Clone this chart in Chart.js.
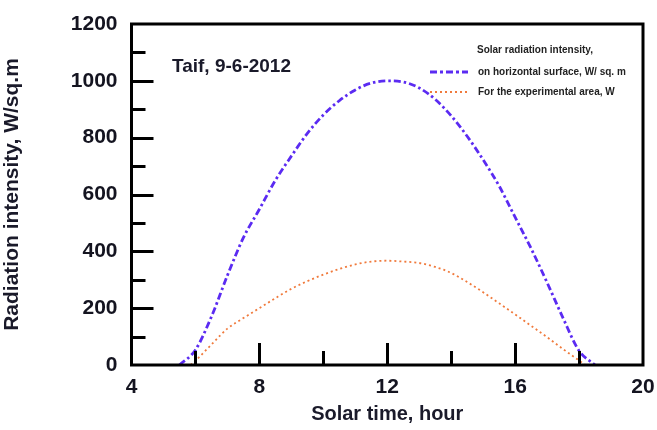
<!DOCTYPE html>
<html>
<head>
<meta charset="utf-8">
<script src="https://cdn.jsdelivr.net/npm/chart.js@4"></script>
<style>
html,body{margin:0;padding:0;background:#fff;}
#wrap{width:657px;height:430px;position:relative;}
</style>
</head>
<body>
<div id="wrap"><canvas id="c" width="657" height="430"></canvas></div>
<script>
// ---- data ----
const horizHours = [5.5, 6, 6.5, 7, 7.5, 8, 8.5, 9, 9.5, 10, 10.5, 11, 11.5, 12, 12.5, 13, 13.5, 14, 14.5, 15, 15.5, 16, 16.5, 17, 17.5, 18, 18.5];
const horizValues = [0, 53, 170, 315, 448, 548, 650, 735, 815, 880, 930, 968, 992, 1000, 996, 975, 935, 877, 805, 722, 630, 520, 410, 290, 165, 50, 0];
const areaHours = [5.85, 6, 6.5, 7, 7.5, 8, 8.5, 9, 9.5, 10, 10.5, 11, 11.5, 12, 12.5, 13, 13.5, 14, 14.5, 15, 15.5, 16, 16.5, 17, 17.5, 18, 18.2];
const areaValues = [0, 15, 72, 128, 165, 200, 235, 268, 295, 318, 338, 354, 364, 367, 364, 359, 345, 324, 292, 256, 217, 178, 138, 98, 56, 16, 0];
const xTickLabels = [4, 8, 12, 16, 20];
const yTickLabels = [0, 200, 400, 600, 800, 1000, 1200];
const legendTitle = "Solar radiation intensity,";
const seriesNames = ["on horizontal surface, W/ sq. m", "For the experimental area, W"];
const annotationText = "Taif, 9-6-2012";
const xTitle = "Solar time, hour";
const yTitle = "Radiation intensity, W/sq.m";

const BLUE = '#5b2bf2';
const ORANGE = '#f07a3c';
const FONT = 'Liberation Sans, Arial, sans-serif';

const toPts = (xs, ys) => xs.map((x, i) => ({x: x, y: ys[i]}));

const frame = {
  id: 'frame',
  afterDatasetsDraw(chart) {
    const {ctx, chartArea: a, scales} = chart;
    ctx.save();
    ctx.strokeStyle = '#000';
    ctx.lineWidth = 3;
    ctx.strokeRect(a.left, a.top, a.right - a.left, a.bottom - a.top);
    ctx.beginPath();
    for (let v = 100; v < 1200; v += 100) {
      const y = Math.round(scales.y.getPixelForValue(v)) + 0.5;
      const len = (v % 200 === 0) ? 22 : 14;
      ctx.moveTo(a.left, y); ctx.lineTo(a.left + len, y);
    }
    for (let h = 6; h < 20; h += 2) {
      const x = Math.round(scales.x.getPixelForValue(h)) + 0.5;
      const len = (h % 4 === 0) ? 22 : 14;
      ctx.moveTo(x, a.bottom); ctx.lineTo(x, a.bottom - len);
    }
    ctx.stroke();

    // annotation
    ctx.fillStyle = '#1a1a2a';
    ctx.textBaseline = 'middle';
    ctx.textAlign = 'left';
    ctx.font = 'bold 19px ' + FONT;
    ctx.fillText(annotationText, 172, 67);

    // legend
    ctx.font = 'bold 10px ' + FONT;
    ctx.fillStyle = '#222';
    ctx.fillText(legendTitle, 477, 50);
    ctx.fillText(seriesNames[0], 478, 72);
    ctx.fillText(seriesNames[1], 478, 92);
    ctx.lineWidth = 3;
    ctx.strokeStyle = BLUE;
    ctx.setLineDash([7, 3, 3, 3]);
    ctx.beginPath(); ctx.moveTo(430, 72); ctx.lineTo(468, 72); ctx.stroke();
    ctx.lineWidth = 2;
    ctx.strokeStyle = ORANGE;
    ctx.setLineDash([2, 3]);
    ctx.beginPath(); ctx.moveTo(430, 92); ctx.lineTo(468, 92); ctx.stroke();
    ctx.restore();
  }
};

new Chart(document.getElementById('c'), {
  type: 'line',
  data: {
    datasets: [
      {
        label: seriesNames[0],
        data: toPts(horizHours, horizValues),
        borderColor: BLUE,
        borderWidth: 2.8,
        borderDash: [7, 3, 2.5, 3],
        pointRadius: 0,
        tension: 0.4,
        cubicInterpolationMode: 'monotone',
        fill: false
      },
      {
        label: seriesNames[1],
        data: toPts(areaHours, areaValues),
        borderColor: ORANGE,
        borderWidth: 1.8,
        borderDash: [2, 3],
        pointRadius: 0,
        tension: 0.4,
        cubicInterpolationMode: 'monotone',
        fill: false
      }
    ]
  },
  options: {
    responsive: false,
    animation: false,
    devicePixelRatio: 1,
    layout: {padding: {top: 24, right: 14, left: 0, bottom: 0}},
    plugins: {legend: {display: false}, tooltip: {enabled: false}},
    scales: {
      x: {
        type: 'linear',
        min: 4, max: 20,
        afterBuildTicks(s) { s.ticks = xTickLabels.map(v => ({value: v})); },
        afterFit(s) { s.height = 65; s.paddingLeft = 0; s.paddingRight = 0; },
        grid: {display: false, drawTicks: false},
        border: {display: false},
        ticks: {color: '#141420', font: {family: FONT, size: 21, weight: 'bold'}, padding: 10, maxRotation: 0,
                callback: v => String(v)},
        title: {display: true, text: xTitle, color: '#1a1a2a', font: {family: FONT, size: 20, weight: 'bold'}, padding: {top: 0, bottom: 4}}
      },
      y: {
        type: 'linear',
        min: 0, max: 1200,
        afterBuildTicks(s) { s.ticks = yTickLabels.map(v => ({value: v})); },
        afterFit(s) { s.width = 131.5; s.paddingTop = 0; s.paddingBottom = 0; },
        grid: {display: false, drawTicks: false},
        border: {display: false},
        ticks: {color: '#141420', font: {family: FONT, size: 21, weight: 'bold'}, padding: 14,
                callback: v => String(v)},
        title: {display: true, text: yTitle, color: '#1a1a2a', font: {family: FONT, size: 21, weight: 'bold'}, padding: {top: 0, bottom: 9}}
      }
    }
  },
  plugins: [frame]
});
</script>
</body>
</html>
